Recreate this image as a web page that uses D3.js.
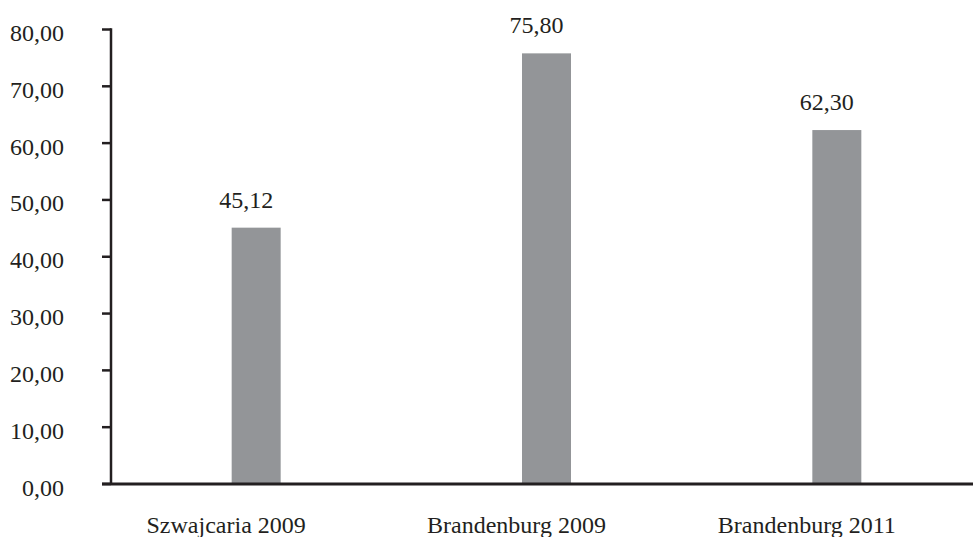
<!DOCTYPE html>
<html>
<head>
<meta charset="utf-8">
<script src="https://cdnjs.cloudflare.com/ajax/libs/d3/7.8.5/d3.min.js"></script>
<style>
  html, body { margin: 0; padding: 0; background: #fff; }
  svg text { font-family: "Liberation Serif", "Times New Roman", serif; fill: #231f20; }
</style>
</head>
<body>
<div id="chart"></div>
<script>
// data
var categories = ["Szwajcaria 2009", "Brandenburg 2009", "Brandenburg 2011"];
var values = [45.12, 75.80, 62.30];
var yTicks = [0, 10, 20, 30, 40, 50, 60, 70, 80];

var width = 973, height = 537;
var axisX = 111, baseY = 484, topY = 29.5;
var fontSize = 24;
var ink = "#231f20";

var fmt = function(v) { return d3.format(".2f")(v).replace(".", ","); };

var svg = d3.select("#chart")
    .append("svg")
    .attr("width", width)
    .attr("height", height);

var x = d3.scaleBand()
    .domain(categories)
    .range([axisX, 982])
    .padding(0);

var y = d3.scaleLinear()
    .domain([0, 80])
    .range([baseY, topY]);

var barWidth = 49;

// bars
svg.selectAll(".bar")
    .data(values)
    .enter().append("rect")
    .attr("class", "bar")
    .attr("x", function(d, i) { return x(categories[i]) + x.bandwidth() / 2 - barWidth / 2; })
    .attr("y", function(d) { return y(d); })
    .attr("width", barWidth)
    .attr("height", function(d) { return y(0) - y(d); })
    .attr("fill", "#939598");

// value labels above bars
svg.selectAll(".val")
    .data(values)
    .enter().append("text")
    .attr("class", "val")
    .attr("x", function(d, i) { return x(categories[i]) + x.bandwidth() / 2 - 10; })
    .attr("y", function(d) { return y(d) - 20; })
    .attr("text-anchor", "middle")
    .style("font-size", fontSize + "px")
    .text(function(d) { return fmt(d); });

// y axis line
svg.append("line")
    .attr("x1", axisX).attr("x2", axisX)
    .attr("y1", y(80) - 1.2).attr("y2", baseY)
    .attr("stroke", ink)
    .attr("stroke-width", 2.5);

// y ticks and labels
svg.selectAll(".ytick")
    .data(yTicks)
    .enter().append("line")
    .attr("class", "ytick")
    .attr("x1", axisX - 9).attr("x2", axisX)
    .attr("y1", function(d) { return y(d); })
    .attr("y2", function(d) { return y(d); })
    .attr("stroke", ink)
    .attr("stroke-width", 2.5);

svg.selectAll(".ylab")
    .data(yTicks)
    .enter().append("text")
    .attr("class", "ylab")
    .attr("x", 64)
    .attr("y", function(d) { return y(d) + 11.5; })
    .attr("text-anchor", "end")
    .style("font-size", fontSize + "px")
    .text(function(d) { return fmt(d); });

// baseline (x axis)
svg.append("line")
    .attr("x1", axisX - 9).attr("x2", width)
    .attr("y1", baseY).attr("y2", baseY)
    .attr("stroke", ink)
    .attr("stroke-width", 3);

// category labels
svg.selectAll(".xlab")
    .data(categories)
    .enter().append("text")
    .attr("class", "xlab")
    .attr("x", function(d) { return x(d) + x.bandwidth() / 2 - 30; })
    .attr("y", 533)
    .attr("text-anchor", "middle")
    .style("font-size", fontSize + "px")
    .text(function(d) { return d; });
</script>
</body>
</html>
